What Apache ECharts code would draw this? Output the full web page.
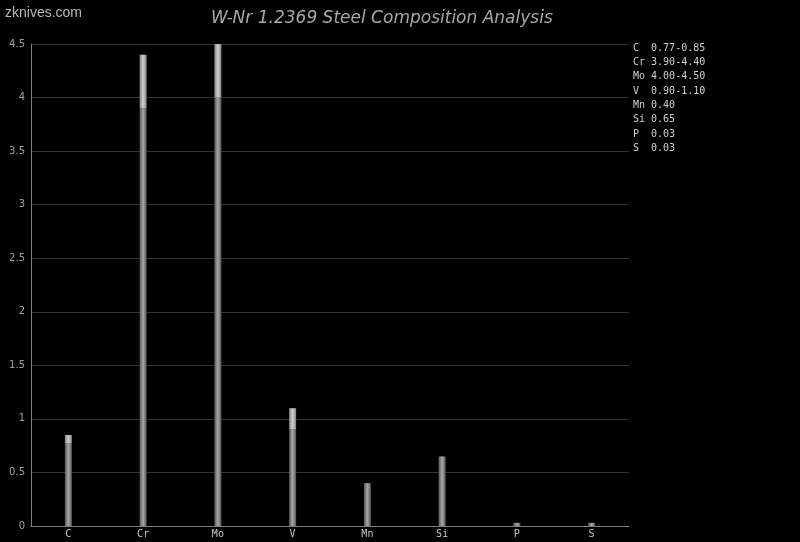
<!DOCTYPE html>
<html><head><meta charset="utf-8">
<script src="https://cdn.jsdelivr.net/npm/echarts@6/dist/echarts.min.js"></script>
<style>html,body{margin:0;padding:0;background:#000;}#c{width:800px;height:542px;}</style>
</head><body><div id="c"></div>
<script>
var categories = ['C','Cr','Mo','V','Mn','Si','P','S'];
var minValues = [0.77, 3.90, 4.00, 0.90, 0.40, 0.65, 0.03, 0.03];
var maxValues = [0.85, 4.40, 4.50, 1.10, 0.40, 0.65, 0.03, 0.03];
var legendLines = ['C  0.77-0.85','Cr 3.90-4.40','Mo 4.00-4.50','V  0.90-1.10','Mn 0.40','Si 0.65','P  0.03','S  0.03'];
var yTicks = [0,0.5,1,1.5,2,2.5,3,3.5,4,4.5];

var rangeValues = minValues.map(function(v,i){ return +(maxValues[i]-v).toFixed(2); });

function grad(edge, mid){
  return new echarts.graphic.LinearGradient(0,0,1,0,[
    {offset:0,color:edge},{offset:0.5,color:mid},{offset:1,color:edge}]);
}

var chart = echarts.init(document.getElementById('c'), null, {renderer:'canvas'});
chart.setOption({
  backgroundColor:'#000',
  animation:false,
  title:{
    text:'W-Nr 1.2369 Steel Composition Analysis',
    left:206, top:5,
    textStyle:{color:'#a8a8a8', fontFamily:'DejaVu Sans', fontStyle:'italic', fontWeight:'normal', fontSize:17}
  },
  graphic:[
    {type:'text', left:5, top:6, style:{text:'zknives.com', fill:'#b8b8b8', font:'14px "Liberation Sans"'}},
    {type:'text', left:633, top:41, style:{text:legendLines.join('\n'), fill:'#d0d0d0', font:'10px "DejaVu Sans Mono"', lineHeight:14.3}}
  ],
  grid:{left:31, right:171, top:44, bottom:16, containLabel:false},
  xAxis:{
    type:'category', data:categories,
    axisLine:{lineStyle:{color:'#808080', width:1}},
    axisTick:{show:false},
    axisLabel:{color:'#c8c8c8', fontFamily:'DejaVu Sans Mono', fontSize:10, margin:3}
  },
  yAxis:{
    type:'value', min:0, max:4.5, interval:0.5,
    axisLine:{show:true, lineStyle:{color:'#808080', width:1}},
    axisTick:{show:false},
    axisLabel:{color:'#a0a0a0', fontFamily:'DejaVu Sans', fontSize:10, margin:6,
      formatter:function(v){ return yTicks.indexOf(v)>=0 ? String(v) : ''; }},
    splitLine:{lineStyle:{color:'#333333', width:1}}
  },
  series:[
    {type:'bar', stack:'a', data:minValues, barWidth:7,
      itemStyle:{color:grad('#555555','#a8a8a8')}},
    {type:'bar', stack:'a', data:rangeValues, barWidth:7,
      itemStyle:{color:grad('#858585','#d0d0d0')}}
  ]
});
</script></body></html>
